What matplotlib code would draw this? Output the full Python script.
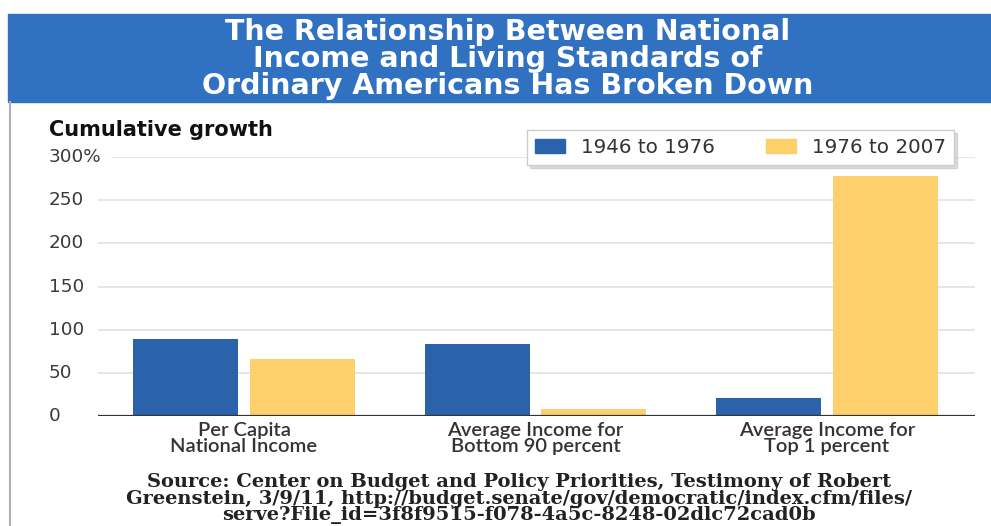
import numpy as np
import matplotlib
matplotlib.use('Agg')
import matplotlib.pyplot as plt
from matplotlib.patches import Rectangle, Patch
from matplotlib.transforms import blended_transform_factory

# Datos: crecimiento acumulado (%) por categoria
categorias = ['Per Capita\nNational Income',
              'Average Income for\nBottom 90 percent',
              'Average Income for\nTop 1 percent']
periodo1 = [89, 83, 20]     # 1946 to 1976
periodo2 = [66, 8, 278]     # 1976 to 2007
series = ['1946 to 1976', '1976 to 2007']
yticks = [0, 50, 100, 150, 200, 250, 300]
yticklabels = ['0', '50', '100', '150', '200', '250', '300%']

azul = '#2b63aa'
amarillo = '#fdd06b'
banner = '#3171c1'

W, H = 991, 526
fig = plt.figure(figsize=(W/100, H/100), dpi=100)

def fx(px):
    return px / W

def fy(py):
    return 1 - py / H

# Franja del titulo
fig.patches.append(Rectangle((fx(8), fy(102)), 1 - fx(8), fy(14) - fy(102),
                             transform=fig.transFigure, color=banner, zorder=0))
# borde izquierdo gris
fig.add_artist(plt.Line2D([fx(9.5), fx(9.5)], [0, fy(102)], color='#b0b0b0', lw=1.5,
                          transform=fig.transFigure))

titulo = ('The Relationship Between National\n'
          'Income and Living Standards of\n'
          'Ordinary Americans Has Broken Down')
fig.text(fx(508), fy(59), titulo, color='white', fontsize=20.5, fontweight='bold',
         family='DejaVu Sans', ha='center', va='center', multialignment='center',
         linespacing=0.96)

# Ejes
x0, x1 = 98, 975
ax = fig.add_axes([fx(x0), fy(415.7), fx(x1) - fx(x0), fy(157.3) - fy(415.7)])
ax.set_ylim(0, 300)
ax.set_xlim(-0.501, 2.508)
for s in ax.spines.values():
    s.set_visible(False)
ax.set_xticks([])
ax.set_yticks([])

# lineas de grilla
for v in yticks[1:]:
    xmin = (112 - x0) / (x1 - x0) if v == 300 else 0
    ax.axhline(v, xmin=xmin, xmax=1, color='#e2e2e2', lw=1.2, zorder=0)
ax.axhline(0, color='#333333', lw=1.6, zorder=3)

x = np.arange(len(categorias))
ax.bar(x - 0.2, periodo1, width=0.36, color=azul, zorder=2)
ax.bar(x + 0.2, periodo2, width=0.36, color=amarillo, zorder=2)

trans_y = blended_transform_factory(fig.transFigure, ax.transData)
for v, lab in zip(yticks, yticklabels):
    ax.text(fx(49), v, lab, transform=trans_y, ha='left', va='center',
            fontsize=13.2, color='#3a3a3a', family='DejaVu Sans')

for xi, c in zip(x, categorias):
    ax.text(xi, -7, c, ha='center', va='top', fontsize=14.5, color='#333333',
            family='Lato', fontweight='semibold', linespacing=0.95)

fig.text(fx(49), fy(130), 'Cumulative growth', fontsize=15, fontweight='bold',
         family='DejaVu Sans', color='#111111', ha='left', va='center')

handles = [Patch(color=azul), Patch(color=amarillo)]
leg = fig.legend(handles, series, ncol=2, loc='upper left',
                 bbox_to_anchor=(fx(527), fy(130)), frameon=True, fancybox=False,
                 shadow={'color': '#bbbbbb', 'alpha': 0.5}, edgecolor='#cccccc',
                 prop={'family': 'DejaVu Sans', 'size': 14.3},
                 handlelength=1.5, handleheight=0.75, columnspacing=2.6, handletextpad=0.8,
                 borderpad=0.4, borderaxespad=0)
for t in leg.get_texts():
    t.set_color('#333333')

fuente = ('Source: Center on Budget and Policy Priorities, Testimony of Robert\n'
          'Greenstein, 3/9/11, http://budget.senate/gov/democratic/index.cfm/files/\n'
          'serve?File_id=3f8f9515-f078-4a5c-8248-02dlc72cad0b')
fig.text(fx(519), fy(498.5), fuente, fontsize=14, fontweight='bold',
         family='DejaVu Serif', color='#222222', ha='center', va='center',
         multialignment='center', linespacing=0.86)

fig.savefig('out.png', dpi=100)
